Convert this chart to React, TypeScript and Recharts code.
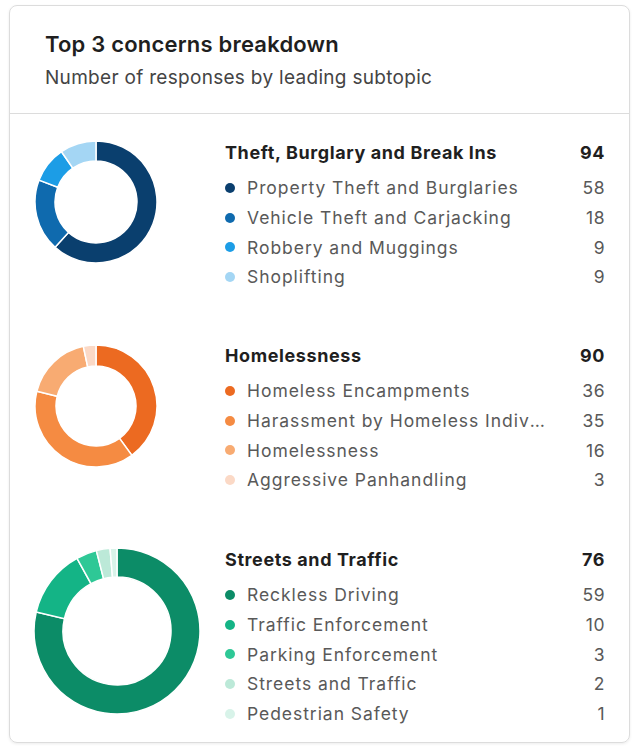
import { PieChart, Pie, Cell } from "recharts";

const groupTitles = ["Theft, Burglary and Break Ins", "Homelessness", "Streets and Traffic"];
// totals shown in the header rows (traffic header says 76 even though its rows add to 75)
const groupTotals = [94, 90, 76];

const theftLabels = [
  "Property Theft and Burglaries",
  "Vehicle Theft and Carjacking",
  "Robbery and Muggings",
  "Shoplifting",
];
const theftValues = [58, 18, 9, 9];

const homelessLabels = [
  "Homeless Encampments",
  "Harassment by Homeless Individuals",
  "Homelessness",
  "Aggressive Panhandling",
];
const homelessValues = [36, 35, 16, 3];

const trafficLabels = [
  "Reckless Driving",
  "Traffic Enforcement",
  "Parking Enforcement",
  "Streets and Traffic",
  "Pedestrian Safety",
];
const trafficValues = [59, 10, 3, 2, 1];

const blues = ["#0a3f6e", "#0f6aae", "#1c9de6", "#a4d6f4"];
const oranges = ["#ec6a21", "#f58b42", "#f8ab72", "#fbd9c6"];
const greens = ["#0c8c67", "#14b486", "#2ec896", "#bce9d8", "#d8f3e9"];

const FONT = "Inter, 'Noto Sans', sans-serif";

interface GroupProps {
  title: string;
  total: number;
  labels: string[];
  values: number[];
  colors: string[];
  top: number;
  donutTop: number;
  donutLeft: number;
  outer: number;
  inner: number;
}

function Group({ title, total, labels, values, colors, top, donutTop, donutLeft, outer, inner }: GroupProps) {
  const data = labels.map((name, i) => ({ name, value: values[i] }));
  const size = outer * 2 + 4;

  return (
    <>
      <div style={{ position: "absolute", left: donutLeft - outer - 2, top: donutTop - outer - 2 }}>
        <PieChart width={size} height={size} margin={{ top: 0, right: 0, bottom: 0, left: 0 }}>
          <Pie
            data={data}
            dataKey="value"
            cx="50%"
            cy="50%"
            innerRadius={inner}
            outerRadius={outer}
            startAngle={90}
            endAngle={-270}
            stroke="#fff"
            strokeWidth={1.5}
            isAnimationActive={false}
          >
            {data.map((d, i) => (
              <Cell key={d.name} fill={colors[i]} />
            ))}
          </Pie>
        </PieChart>
      </div>
      <div style={{ position: "absolute", left: 225, top: top - 15, width: 380 }}>
        <div
          style={{
            display: "flex",
            justifyContent: "space-between",
            height: 30,
            lineHeight: "30px",
            fontSize: 18,
            fontWeight: 700,
            letterSpacing: 0.6,
            color: "#1f1f1f",
          }}
        >
          <span>{title}</span>
          <span>{total}</span>
        </div>
        <div style={{ marginTop: 5 }}>
          {data.map((d, i) => (
            <div
              key={d.name}
              style={{
                display: "flex",
                alignItems: "center",
                height: 29.7,
                fontSize: 17.5,
                color: "#595959",
                letterSpacing: 0.95,
              }}
            >
              <span
                style={{
                  width: 10,
                  height: 10,
                  borderRadius: "50%",
                  background: colors[i],
                  marginRight: 12,
                  flex: "none",
                }}
              />
              <span
                style={{
                  maxWidth: 298,
                  whiteSpace: "nowrap",
                  overflow: "hidden",
                  textOverflow: "ellipsis",
                }}
              >
                {d.name}
              </span>
              <span style={{ marginLeft: "auto", paddingLeft: 8, letterSpacing: 0.5 }}>{d.value}</span>
            </div>
          ))}
        </div>
      </div>
    </>
  );
}

export default function App() {
  return (
    <div
      style={{
        position: "absolute",
        left: 0,
        top: 0,
        width: 636,
        height: 746,
        background: "#fff",
        fontFamily: FONT,
      }}
    >
      <div
        style={{
          position: "absolute",
          left: 9,
          top: 5,
          width: 619,
          height: 736,
          border: "1px solid #dcdcdc",
          borderRadius: 8,
          boxShadow: "0 1px 3px rgba(0,0,0,0.08)",
        }}
      />
      <div
        style={{
          position: "absolute",
          left: 45,
          top: 30,
          fontSize: 22,
          fontWeight: 600,
          letterSpacing: 0.2,
          color: "#1f1f1f",
          lineHeight: "28px",
        }}
      >
        Top 3 concerns breakdown
      </div>
      <div
        style={{
          position: "absolute",
          left: 45,
          top: 66,
          fontSize: 19,
          letterSpacing: 0.3,
          color: "#444",
          lineHeight: "24px",
        }}
      >
        Number of responses by leading subtopic
      </div>
      <div style={{ position: "absolute", left: 10, top: 113, width: 619, height: 1, background: "#dcdcdc" }} />

      <Group
        title={groupTitles[0]}
        total={groupTotals[0]}
        labels={theftLabels}
        values={theftValues}
        colors={blues}
        top={153}
        donutTop={202}
        donutLeft={96}
        outer={61}
        inner={41}
      />
      <Group
        title={groupTitles[1]}
        total={groupTotals[1]}
        labels={homelessLabels}
        values={homelessValues}
        colors={oranges}
        top={356}
        donutTop={406}
        donutLeft={96}
        outer={61}
        inner={40}
      />
      <Group
        title={groupTitles[2]}
        total={groupTotals[2]}
        labels={trafficLabels}
        values={trafficValues}
        colors={greens}
        top={560}
        donutTop={631}
        donutLeft={117}
        outer={83}
        inner={54}
      />
    </div>
  );
}
